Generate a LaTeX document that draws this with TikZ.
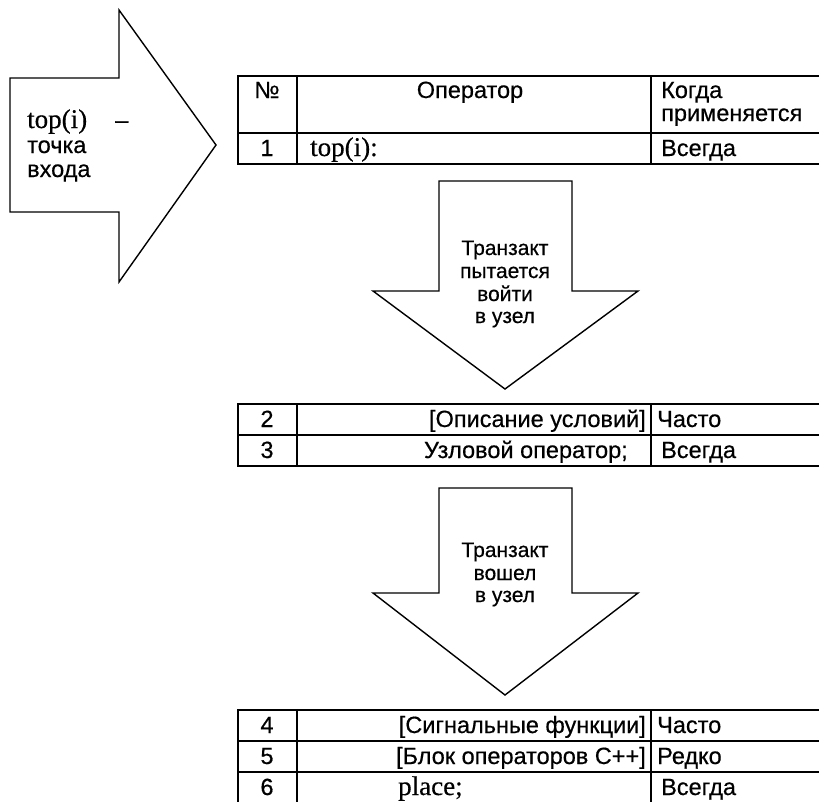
\documentclass[tikz,border=0pt]{standalone}
\usepackage{fontspec}
\setmainfont{Liberation Sans}[FakeBold=0.5]
\newfontfamily\codefont{Liberation Serif}[FakeBold=0.4]

\begin{document}
\begin{tikzpicture}[x=1pt, y=-1pt,
    every node/.style={inner sep=0pt},
    cell/.style={font=\fontsize{23.5}{23}\selectfont},
    code/.style={font=\codefont\fontsize{27}{27}\selectfont},
    flowtext/.style={font=\fontsize{21}{23}\selectfont, anchor=base},
    blockarrow/.style={draw, line width=1.4pt, line join=miter, fill=white},
    grid/.style={line width=1.6pt, line cap=rect}]

    \useasboundingbox (0,0) rectangle (819,801);
    \clip (0,0) rectangle (819,801);

    % ---- Parameters ----
    \def\cA{238}   % left border of the tables
    \def\cB{297}   % No. | operator
    \def\cC{651}   % operator | when applied
    \def\cR{830}   % rows run past the right edge
    \def\nx{267}   % centre of the No. column
    \def\wx{661}   % start of the last column

    % ---- Entry arrow ----
    \draw[blockarrow] (10,78) -- (119,78) -- (119,10) -- (216,145)
        -- (119,282) -- (119,212) -- (10,212) -- cycle;
    \node[code, anchor=base west] (entry) at (27,128) {top(i)};
    \node[cell, anchor=base west] (dash) at (115,128) {--};
    \node[cell, anchor=base west] (entry2) at (27,153) {точка};
    \node[cell, anchor=base west] (entry3) at (27,177) {входа};

    % ---- Table: header and row 1 ----
    \foreach \yy in {76,133,164} \draw[grid] (\cA,\yy) -- (\cR,\yy);
    \foreach \xx in {\cA,\cB,\cC} \draw[grid] (\xx,76) -- (\xx,164);
    \node[cell, anchor=base] (hnum) at (\nx,98) {№};
    \node[cell, anchor=base] (hop) at (470,98) {Оператор};
    \node[cell, anchor=base west] (hwhen) at (\wx,98) {Когда};
    \node[cell, anchor=base west] (hwhen2) at (\wx,121) {применяется};
    \node[cell, anchor=base] (n1) at (\nx,156) {1};
    \node[code, anchor=base west] (op1) at (310,156) {top(i):};
    \node[cell, anchor=base west] (w1) at (\wx,156) {Всегда};

    % ---- Arrow: transact tries to enter ----
    \draw[blockarrow] (439,181) -- (572,181) -- (572,291) -- (638,291)
        -- (505,389) -- (373,291) -- (439,291) -- cycle;
    \foreach \txt/\yy [count=\i] in {Транзакт/255, пытается/278, войти/301, в узел/323}
        \node[flowtext] (try\i) at (505,\yy) {\txt};

    % ---- Table: rows 2-3 ----
    \foreach \yy in {404,435,466} \draw[grid] (\cA,\yy) -- (\cR,\yy);
    \foreach \xx in {\cA,\cB,\cC} \draw[grid] (\xx,404) -- (\xx,466);
    \node[cell, anchor=base] (n2) at (\nx,427) {2};
    \node[cell, anchor=base east] (op2) at (646,427) {[Описание условий]};
    \node[cell, anchor=base west] (w2) at (657,427) {Часто};
    \node[cell, anchor=base] (n3) at (\nx,458) {3};
    \node[cell, anchor=base east] (op3) at (628,458) {Узловой оператор;};
    \node[cell, anchor=base west] (w3) at (\wx,458) {Всегда};

    % ---- Arrow: transact has entered ----
    \draw[blockarrow] (439,488) -- (572,488) -- (572,593) -- (638,593)
        -- (505,695) -- (373,593) -- (439,593) -- cycle;
    \foreach \txt/\yy [count=\i] in {Транзакт/557, вошел/580, в узел/602}
        \node[flowtext] (in\i) at (505,\yy) {\txt};

    % ---- Table: rows 4-6 ----
    \foreach \yy in {710,741,772,803} \draw[grid] (\cA,\yy) -- (\cR,\yy);
    \foreach \xx in {\cA,\cB,\cC} \draw[grid] (\xx,710) -- (\xx,803);
    \node[cell, anchor=base] (n4) at (\nx,733) {4};
    \node[cell, anchor=base east] (op4) at (646,733) {[Сигнальные функции]};
    \node[cell, anchor=base west] (w4) at (657,733) {Часто};
    \node[cell, anchor=base] (n5) at (\nx,764) {5};
    \node[cell, anchor=base east] (op5) at (646,764) {[Блок операторов C++]};
    \node[cell, anchor=base west] (w5) at (657,764) {Редко};
    \node[cell, anchor=base] (n6) at (\nx,795) {6};
    \node[code, anchor=base west] (op6) at (398,795) {place;};
    \node[cell, anchor=base west] (w6) at (\wx,795) {Всегда};

\end{tikzpicture}
\end{document}
